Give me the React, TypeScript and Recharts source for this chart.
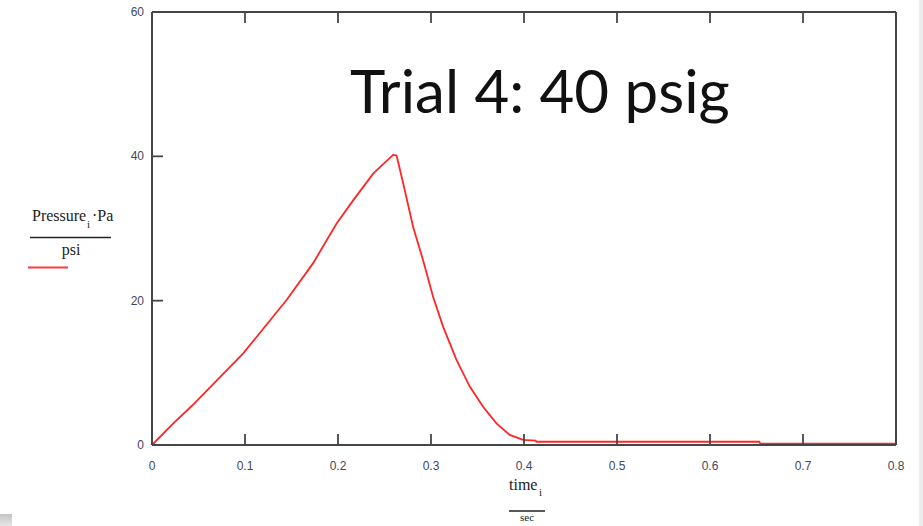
import React from "react";
import { LineChart, Line, XAxis, YAxis } from "recharts";

const timeValues = [0, 0.0229, 0.0427, 0.07, 0.0981, 0.1303, 0.1447, 0.1733, 0.1985, 0.2163, 0.2378, 0.25, 0.2593, 0.263, 0.27, 0.2808, 0.2915, 0.3023, 0.313, 0.3274, 0.3417, 0.356, 0.3704, 0.3847, 0.399, 0.4125, 0.4134, 0.653, 0.654, 0.8];
const pressureValues = [0, 3.0, 5.4, 9.0, 12.7, 17.8, 20.1, 25.2, 30.7, 33.9, 37.6, 39.1, 40.2, 40.1, 36.3, 30.2, 25.6, 20.5, 16.4, 11.8, 8.1, 5.3, 3.0, 1.4, 0.7, 0.62, 0.45, 0.45, 0.2, 0.2];
const xTicks = [0, 0.1, 0.2, 0.3, 0.4, 0.5, 0.6, 0.7, 0.8];
const yTicks = [0, 20, 40, 60];
const titleText = "Trial 4: 40 psig";

const rows = timeValues.map((t, i) => ({ t, p: pressureValues[i] }));

const AXIS = "#464646";
const LABEL = "#3e4862";
const TICKLEN = 11;
const tickFont = "Liberation Sans, Arial, sans-serif";

const LeftTick = (props: any) => {
  const { x, y, payload } = props;
  const ax = x + 8;
  return (
    <g>
      <line x1={ax} y1={y} x2={ax + TICKLEN} y2={y} stroke={AXIS} strokeWidth={1.8} />
      <text x={x} y={y + 4} textAnchor="end" fontFamily={tickFont} fontSize={12} fill={LABEL}>
        {payload.value}
      </text>
    </g>
  );
};

const BottomTick = (props: any) => {
  const { x, y, payload } = props;
  return (
    <g>
      <line x1={x} y1={y} x2={x} y2={y - TICKLEN} stroke={AXIS} strokeWidth={1.8} />
      <text x={x} y={y + 25} textAnchor="middle" fontFamily={tickFont} fontSize={12} fill={LABEL}>
        {payload.value}
      </text>
    </g>
  );
};

const TopTick = (props: any) => {
  const { x, y } = props;
  return <line x1={x} y1={y} x2={x} y2={y + TICKLEN} stroke={AXIS} strokeWidth={1.8} />;
};

const RightTick = (props: any) => {
  const { x, y } = props;
  return <line x1={x} y1={y} x2={x - TICKLEN} y2={y} stroke={AXIS} strokeWidth={1.8} />;
};

const serif = "Liberation Serif, Times New Roman, serif";

export default function App() {
  return (
    <div style={{ position: "absolute", left: 0, top: 0, width: 923, height: 526, background: "#fff", overflow: "hidden" }}>
      <div style={{ position: "absolute", left: 919, top: 0, width: 4, height: 526, background: "#ececec" }} />
      <div style={{ position: "absolute", left: 0, top: 514, width: 12, height: 12, background: "linear-gradient(#c4c4c4, #e6e6e6)" }} />
      <LineChart
        width={923}
        height={526}
        data={rows}
        margin={{ top: 2, right: 17, bottom: 51, left: 92 }}
      >
        <XAxis
          xAxisId="bottom"
          dataKey="t"
          type="number"
          domain={[0, 0.8]}
          ticks={xTicks}
          orientation="bottom"
          height={30}
          tickSize={0}
          tickMargin={0}
          tickLine={false}
          axisLine={{ stroke: AXIS, strokeWidth: 2 }}
          tick={<BottomTick />}
          interval={0}
        />
        <XAxis
          xAxisId="top"
          dataKey="t"
          type="number"
          domain={[0, 0.8]}
          ticks={xTicks}
          orientation="top"
          height={10}
          tickSize={0}
          tickMargin={0}
          tickLine={false}
          axisLine={{ stroke: AXIS, strokeWidth: 2 }}
          tick={<TopTick />}
          interval={0}
        />
        <YAxis
          yAxisId="left"
          type="number"
          domain={[0, 60]}
          ticks={yTicks}
          orientation="left"
          width={60}
          tickSize={0}
          tickMargin={8}
          tickLine={false}
          axisLine={{ stroke: AXIS, strokeWidth: 2 }}
          tick={<LeftTick />}
          interval={0}
        />
        <YAxis
          yAxisId="right"
          type="number"
          domain={[0, 60]}
          ticks={yTicks}
          orientation="right"
          width={10}
          tickSize={0}
          tickMargin={0}
          tickLine={false}
          axisLine={{ stroke: AXIS, strokeWidth: 2 }}
          tick={<RightTick />}
          interval={0}
        />
        <Line
          xAxisId="bottom"
          yAxisId="left"
          dataKey="p"
          type="linear"
          stroke="#ff2626"
          strokeWidth={1.8}
          dot={false}
          activeDot={false}
          isAnimationActive={false}
        />
      </LineChart>
      <svg width={923} height={526} style={{ position: "absolute", left: 0, top: 0, pointerEvents: "none" }}>
        <text x={350} y={113} fontFamily="Lato, sans-serif" fontSize={60} fill="#111">{titleText}</text>
        <text x={32} y={221} fontFamily={serif} fontSize={16} fill="#222">Pressure</text>
        <text x={87} y={228} fontFamily={serif} fontSize={11} fill="#222">i</text>
        <text x={92} y={221} fontFamily={serif} fontSize={16} fill="#222">·Pa</text>
        <line x1={30} y1={237.5} x2={111} y2={237.5} stroke="#222" strokeWidth={1.6} />
        <text x={71} y={255} textAnchor="middle" fontFamily={serif} fontSize={16} fill="#222">psi</text>
        <line x1={28} y1={267.5} x2={68} y2={267.5} stroke="#ff3a3a" strokeWidth={2} />
        <text x={509} y={490} fontFamily={serif} fontSize={16} fill="#222">time</text>
        <text x={539} y={496} fontFamily={serif} fontSize={11} fill="#222">i</text>
        <line x1={509} y1={511} x2={545} y2={511} stroke="#222" strokeWidth={1.6} />
        <text x={527} y={521} textAnchor="middle" fontFamily={serif} fontSize={11} fill="#222">sec</text>
      </svg>
    </div>
  );
}
